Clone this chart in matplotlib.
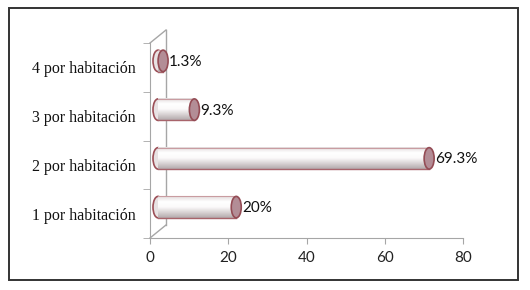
import numpy as np
import matplotlib
matplotlib.use("Agg")
import matplotlib.pyplot as plt
from matplotlib.patches import Ellipse, Rectangle
from matplotlib.colors import LinearSegmentedColormap

categories = ["1 por habitación", "2 por habitación", "3 por habitación", "4 por habitación"]
values = [20, 69.3, 9.3, 1.3]
value_labels = ["20%", "69.3%", "9.3%", "1.3%"]
xticks = [0, 20, 40, 60, 80]

fig = plt.figure(figsize=(5.3, 2.9), dpi=100)
fig.patches.append(Rectangle((9 / 530, 1 - 280 / 290), 509 / 530, 272 / 290,
                             transform=fig.transFigure, fill=False,
                             edgecolor="#333333", linewidth=1.4))

ax = fig.add_axes([150 / 530, 52 / 290, 313 / 530, 195 / 290])
ax.set_xlim(0, 80)
ax.set_ylim(-0.5, 3.5)

# 3D depth offset (data units)
dx = 16 / 313 * 80
dy = 13 / 195 * 4
wall = "#a6a6a6"

ax.plot([dx, dx], [-0.5 + dy, 3.5 + dy], color=wall, lw=1, clip_on=False)
ax.plot([0, dx], [3.5, 3.5 + dy], color=wall, lw=1, clip_on=False)
ax.plot([0, dx], [-0.5, -0.5 + dy], color=wall, lw=1, clip_on=False)

for s in ["top", "right"]:
    ax.spines[s].set_visible(False)
for s in ["left", "bottom"]:
    ax.spines[s].set_color(wall)

ax.set_xticks(xticks)
ax.set_xticklabels([str(t) for t in xticks], family="Lato", fontsize=11)
ax.tick_params(axis="x", colors=wall, labelcolor="#222222", length=4, pad=5)
ax.set_yticks(range(len(categories)))
ax.set_yticklabels(categories, family="Liberation Serif", fontsize=11.5)
ax.tick_params(axis="y", length=0, pad=10, labelcolor="#111111")
ax.set_yticks(np.arange(-0.5, 4, 1), minor=True)
ax.tick_params(axis="y", which="minor", length=5, color=wall)

cmap = LinearSegmentedColormap.from_list(
    "cyl", ["#b3aaac", "#d8d2d3", "#fbfafa", "#ffffff", "#e2dbdc"])
grad = np.linspace(0, 1, 64).reshape(-1, 1)
bh = 0.44
cap_w = 10 / 313 * 80

for i, (v, lab) in enumerate(zip(values, value_labels)):
    yc = i + dy / 2
    x0 = dx / 2
    x1 = v + dx / 2
    ax.add_patch(Ellipse((x0, yc), cap_w, bh, facecolor="#e8e2e3",
                         edgecolor="#9c4f57", lw=1.2, zorder=2))
    ax.imshow(grad, cmap=cmap, extent=[x0, x1, yc - bh / 2, yc + bh / 2],
              origin="lower", aspect="auto", zorder=3)
    ax.plot([x0, x1], [yc - bh / 2, yc - bh / 2], color="#a8646b", lw=1, zorder=4)
    ax.plot([x0, x1], [yc + bh / 2, yc + bh / 2], color="#c99ca1", lw=0.8, zorder=4)
    ax.add_patch(Ellipse((x1, yc), cap_w, bh, facecolor="#b38d96",
                         edgecolor="#944c55", lw=1.2, zorder=5))
    ax.text(x1 + cap_w / 2 + 0.3, yc - 0.02, lab, family="Lato", fontsize=11,
            va="center", ha="left", color="#111111", zorder=6)

ax.set_xlim(0, 80)
ax.set_ylim(-0.5, 3.5)

fig.savefig("out.png", dpi=100)
